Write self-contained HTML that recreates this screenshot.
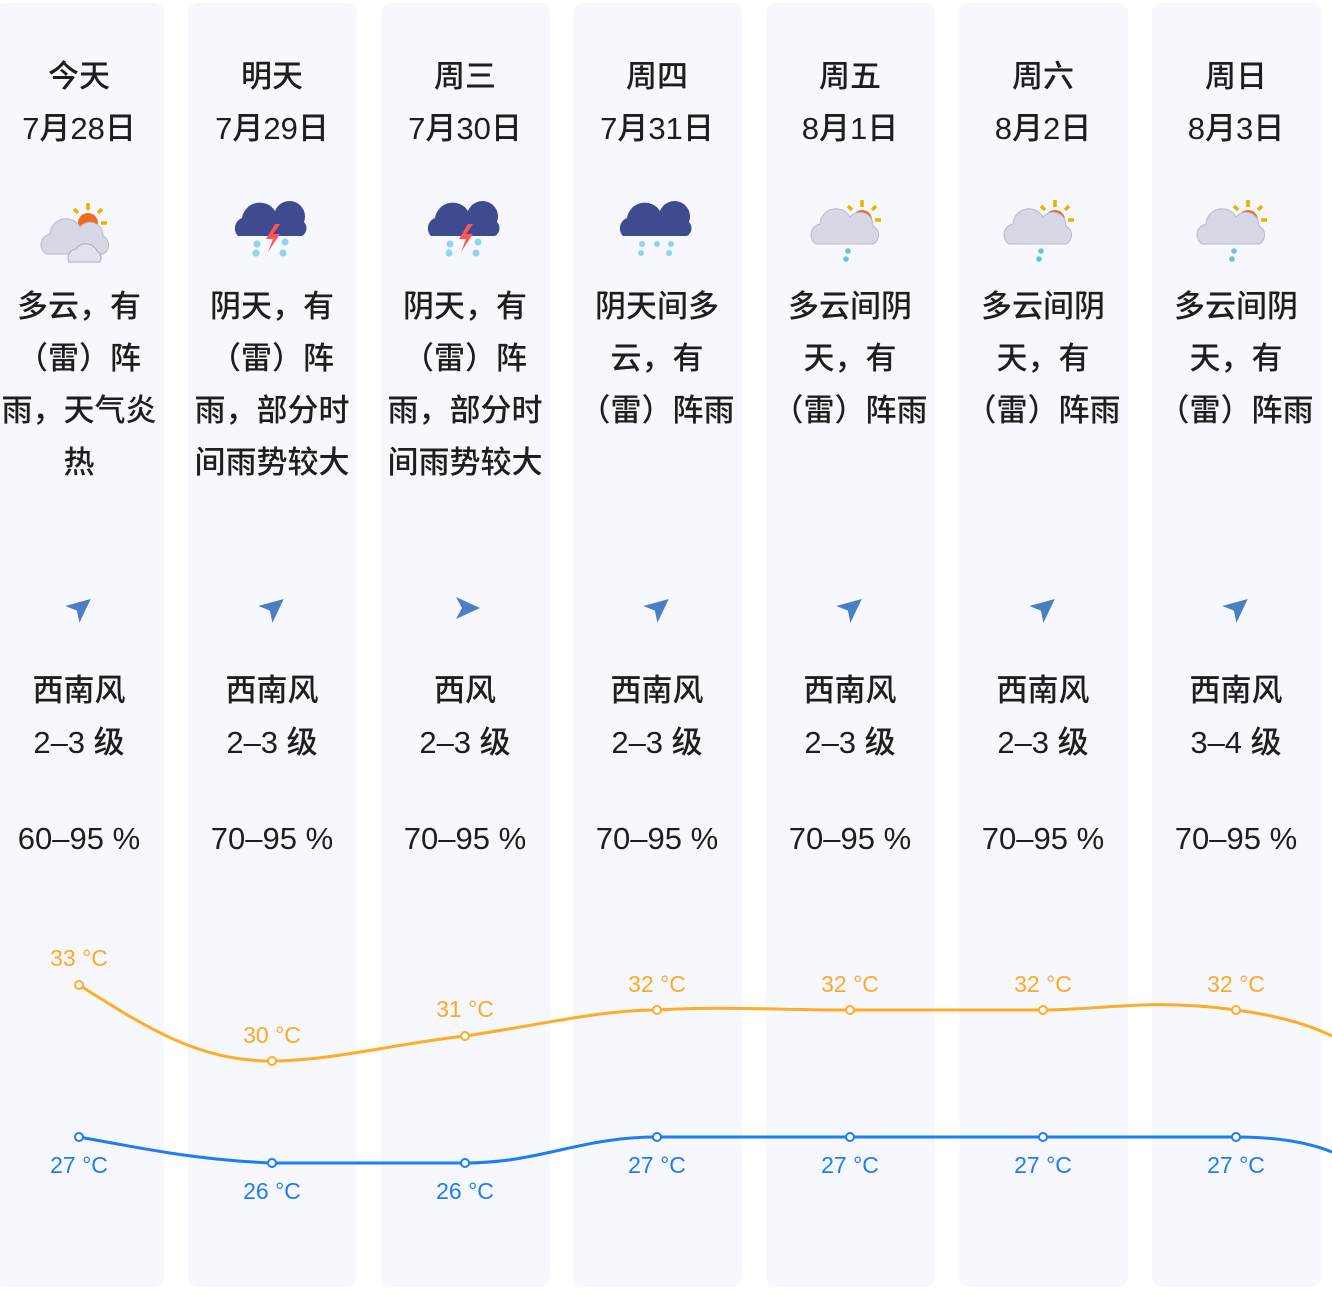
<!DOCTYPE html>
<html><head><meta charset="utf-8"><style>
body{margin:0;width:1332px;height:1298px;background:#fff;position:relative;overflow:hidden;font-family:"Liberation Sans","Noto Sans CJK SC",sans-serif;color:#222}
.col{position:absolute;top:3px;width:169px;height:1284px;background:#f7f8fd;border-radius:10px}
.t{position:absolute;width:220px;text-align:center;font-size:31px;line-height:52px;font-weight:500;color:#1e1e1e}
svg{position:absolute;left:0;top:0}
</style></head><body>
<div class="col" style="left:-5px"></div>
<div class="col" style="left:188px"></div>
<div class="col" style="left:381px"></div>
<div class="col" style="left:573px"></div>
<div class="col" style="left:766px"></div>
<div class="col" style="left:959px"></div>
<div class="col" style="left:1152px"></div>

<div class="t" style="left:-31px;top:51px">今天<br>7月28日</div>
<div class="t" style="left:162px;top:51px">明天<br>7月29日</div>
<div class="t" style="left:355px;top:51px">周三<br>7月30日</div>
<div class="t" style="left:547px;top:51px">周四<br>7月31日</div>
<div class="t" style="left:740px;top:51px">周五<br>8月1日</div>
<div class="t" style="left:933px;top:51px">周六<br>8月2日</div>
<div class="t" style="left:1126px;top:51px">周日<br>8月3日</div>

<div class="t" style="left:-31px;top:281px">多云，有<br>（雷）阵<br>雨，天气炎<br>热</div>
<div class="t" style="left:162px;top:281px">阴天，有<br>（雷）阵<br>雨，部分时<br>间雨势较大</div>
<div class="t" style="left:355px;top:281px">阴天，有<br>（雷）阵<br>雨，部分时<br>间雨势较大</div>
<div class="t" style="left:547px;top:281px">阴天间多<br>云，有<br>（雷）阵雨</div>
<div class="t" style="left:740px;top:281px">多云间阴<br>天，有<br>（雷）阵雨</div>
<div class="t" style="left:933px;top:281px">多云间阴<br>天，有<br>（雷）阵雨</div>
<div class="t" style="left:1126px;top:281px">多云间阴<br>天，有<br>（雷）阵雨</div>

<div class="t" style="left:-31px;top:665px">西南风<br>2–3 级</div>
<div class="t" style="left:162px;top:665px">西南风<br>2–3 级</div>
<div class="t" style="left:355px;top:665px">西风<br>2–3 级</div>
<div class="t" style="left:547px;top:665px">西南风<br>2–3 级</div>
<div class="t" style="left:740px;top:665px">西南风<br>2–3 级</div>
<div class="t" style="left:933px;top:665px">西南风<br>2–3 级</div>
<div class="t" style="left:1126px;top:665px">西南风<br>3–4 级</div>

<div class="t" style="left:-31px;top:813px">60–95 %</div>
<div class="t" style="left:162px;top:813px">70–95 %</div>
<div class="t" style="left:355px;top:813px">70–95 %</div>
<div class="t" style="left:547px;top:813px">70–95 %</div>
<div class="t" style="left:740px;top:813px">70–95 %</div>
<div class="t" style="left:933px;top:813px">70–95 %</div>
<div class="t" style="left:1126px;top:813px">70–95 %</div>

<svg width="1332" height="1298">
<defs>
<g id="sun"><g stroke="#e8b400" stroke-width="3.5"><line x1="0" y1="-20" x2="0" y2="-13"/><line x1="-14" y1="-14" x2="-10" y2="-10"/><line x1="14" y1="-14" x2="10" y2="-10"/><line x1="-19" y1="0" x2="-13" y2="0"/><line x1="19" y1="0" x2="13" y2="0"/></g><circle r="10" fill="#f06a1e"/></g>
<g id="cloudL"><path d="M-34 14a11 11 0 0 1 4-20a16 16 0 0 1 30-7a13 13 0 0 1 23 9a10 10 0 0 1 0 18z" fill="#d7d8e6" stroke="#b8bacc"/></g>
<g id="cloudD"><path d="M-34 10a11 11 0 0 1 4-18a18 18 0 0 1 33-7a14 14 0 0 1 29 11a9 9 0 0 1 -2 14z" fill="#3f4a8f"/></g>
<g id="wind"><path d="M14 0 L-10 -11 L-4 0 L-10 11z" fill="#4a7fc6"/></g>
</defs>
<g transform="translate(88,223)"><use href="#sun"/></g>
<g transform="translate(80,240)"><use href="#cloudL"/></g>
<g transform="translate(91,256)"><path d="M-22 6a9 9 0 0 1 7-13a12 12 0 0 1 21 2a8 8 0 0 1 3 11z" fill="#e0e2f0" stroke="#aab"/></g>
<g transform="translate(272,226)"><use href="#cloudD"/><path d="M3 -2l-9 15h7l-5 13 12-18h-7l7-10z" fill="#f55"/><g fill="#8fd3ee"><circle cx="-15" cy="18" r="3.5"/><circle cx="13" cy="16" r="3.5"/><circle cx="-16" cy="27" r="3.5"/><circle cx="11" cy="27" r="3.5"/></g></g>
<g transform="translate(465,226)"><use href="#cloudD"/><path d="M3 -2l-9 15h7l-5 13 12-18h-7l7-10z" fill="#f55"/><g fill="#8fd3ee"><circle cx="-15" cy="18" r="3.5"/><circle cx="13" cy="16" r="3.5"/><circle cx="-16" cy="27" r="3.5"/><circle cx="11" cy="27" r="3.5"/></g></g>
<g transform="translate(657,226)"><use href="#cloudD"/><g fill="#8fd3ee"><circle cx="-15" cy="18" r="3"/><circle cx="0" cy="18" r="3"/><circle cx="14" cy="18" r="3"/><circle cx="-16" cy="27" r="3"/><circle cx="12" cy="27" r="3"/></g></g>
<g transform="translate(862,220)"><use href="#sun"/></g>
<g transform="translate(850,230)"><use href="#cloudL"/><g fill="#6bc0e0"><circle cx="-2" cy="21" r="2.8"/><circle cx="-4" cy="29" r="2.8"/></g></g>
<g transform="translate(1055,220)"><use href="#sun"/></g>
<g transform="translate(1043,230)"><use href="#cloudL"/><g fill="#6bc0e0"><circle cx="-2" cy="21" r="2.8"/><circle cx="-4" cy="29" r="2.8"/></g></g>
<g transform="translate(1248,220)"><use href="#sun"/></g>
<g transform="translate(1236,230)"><use href="#cloudL"/><g fill="#6bc0e0"><circle cx="-2" cy="21" r="2.8"/><circle cx="-4" cy="29" r="2.8"/></g></g>
<g transform="translate(80,608) rotate(-40)"><use href="#wind"/></g>
<g transform="translate(273,608) rotate(-40)"><use href="#wind"/></g>
<g transform="translate(466,608)"><use href="#wind"/></g>
<g transform="translate(658,608) rotate(-40)"><use href="#wind"/></g>
<g transform="translate(851,608) rotate(-40)"><use href="#wind"/></g>
<g transform="translate(1044,608) rotate(-40)"><use href="#wind"/></g>
<g transform="translate(1237,608) rotate(-40)"><use href="#wind"/></g>
<path d="M79 985 C150 1030,200 1061,272 1061 C330 1061,400 1043,465 1036 C540 1025,600 1010,657 1010 C720 1006,780 1010,850 1010 L1043 1010 C1100 1010,1150 998,1236 1010 C1280 1016,1310 1025,1332 1036" fill="none" stroke="#ffac2a" stroke-width="3"/>
<path d="M79 1137 C150 1150,200 1160,272 1163 L465 1163 C540 1163,580 1137,657 1137 L1236 1137 C1280 1137,1310 1143,1332 1152" fill="none" stroke="#1e7cf5" stroke-width="3"/>
<g fill="#fff" stroke="#ffac2a" stroke-width="2">
<circle cx="79" cy="985" r="4"/><circle cx="272" cy="1061" r="4"/><circle cx="465" cy="1036" r="4"/><circle cx="657" cy="1010" r="4"/><circle cx="850" cy="1010" r="4"/><circle cx="1043" cy="1010" r="4"/><circle cx="1236" cy="1010" r="4"/></g>
<g fill="#fff" stroke="#1e7cf5" stroke-width="2">
<circle cx="79" cy="1137" r="4"/><circle cx="272" cy="1163" r="4"/><circle cx="465" cy="1163" r="4"/><circle cx="657" cy="1137" r="4"/><circle cx="850" cy="1137" r="4"/><circle cx="1043" cy="1137" r="4"/><circle cx="1236" cy="1137" r="4"/></g>
<g font-family="Liberation Sans,sans-serif" font-size="23" text-anchor="middle" fill="#ffa826">
<text x="79" y="966">33 °C</text><text x="272" y="1043">30 °C</text><text x="465" y="1017">31 °C</text><text x="657" y="992">32 °C</text><text x="850" y="992">32 °C</text><text x="1043" y="992">32 °C</text><text x="1236" y="992">32 °C</text></g>
<g font-family="Liberation Sans,sans-serif" font-size="23" text-anchor="middle" fill="#1e7cf5">
<text x="79" y="1173">27 °C</text><text x="272" y="1199">26 °C</text><text x="465" y="1199">26 °C</text><text x="657" y="1173">27 °C</text><text x="850" y="1173">27 °C</text><text x="1043" y="1173">27 °C</text><text x="1236" y="1173">27 °C</text></g>
</svg>
</body></html>
